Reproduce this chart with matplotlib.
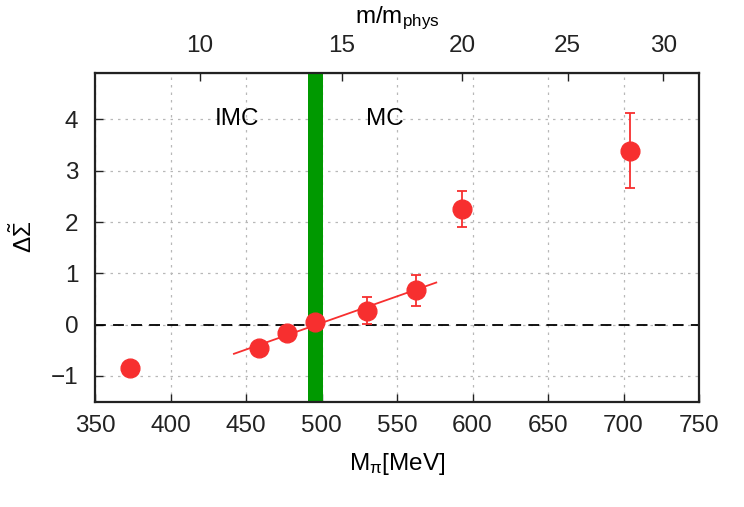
import numpy as np
import matplotlib
matplotlib.use("Agg")
import matplotlib.pyplot as plt

plt.rcParams['font.family'] = ['Liberation Sans', 'DejaVu Sans']
plt.rcParams['mathtext.fontset'] = 'custom'
plt.rcParams['mathtext.rm'] = 'Liberation Sans'
plt.rcParams['mathtext.it'] = 'Liberation Sans:italic'

# --------------------------------------------
# data
# --------------------------------------------
m_pi = [373.5, 458.3, 477.0, 495.6, 530.0, 562.4, 593.0, 704.2]
delta_sigma = [-0.84, -0.46, -0.17, 0.05, 0.27, 0.67, 2.26, 3.39]
delta_err = [0.05, 0.06, 0.07, 0.08, 0.26, 0.30, 0.35, 0.735]

fit_x = [442.0, 576.0]
fit_y = [-0.57, 0.82]

band_lo, band_hi = 491.0, 501.0
m_phys = 132.6
top_ticks = [10, 15, 20, 25, 30]

red = '#f72f2f'
fs = 17.5

fig = plt.figure(figsize=(7.44, 5.07), dpi=100)
ax = fig.add_axes([95/744, 1 - 401.5/507, (699 - 95)/744, (401.5 - 73.3)/507])

ax.axvspan(band_lo, band_hi, color='#009900', lw=0, zorder=1)
ax.axhline(0, color='black', lw=1.3, dashes=(6, 4), zorder=2)
ax.plot(fit_x, fit_y, color=red, lw=1.3, zorder=3)
ax.errorbar(m_pi, delta_sigma, yerr=delta_err, fmt='o', color=red, ms=13.5,
            elinewidth=1.3, capsize=3.5, capthick=1.3, zorder=4)

ax.text(444, 4.0, 'IMC', fontsize=fs, ha='center', va='center')
ax.text(542, 4.0, 'MC', fontsize=fs, ha='center', va='center')

ax.set_xlim(350, 750)
ax.set_ylim(-1.5, 4.9)
ax.set_xticks(np.arange(350, 751, 50))
ax.set_yticks(np.arange(-1, 5, 1))
ax.set_yticklabels(['\u22121', '0', '1', '2', '3', '4'])
ax.grid(True, color='#b8b8b8', lw=0.9, linestyle=(0, (2, 4)), zorder=0)
ax.set_axisbelow(True)
ax.tick_params(direction='in', length=6, width=1, labelsize=fs, top=False, right=False,
               colors='#222222')
ax.tick_params(axis='x', pad=10)
ax.tick_params(axis='y', pad=12)
for s in ax.spines.values():
    s.set_linewidth(1.6)
    s.set_color('#222222')

ax.set_xlabel(r'M$_{\mathrm{\pi}}$[MeV]', fontsize=fs, labelpad=10)
ax.set_ylabel(r'$\Delta\tilde{\Sigma}$', fontsize=fs, labelpad=10)

sec = ax.secondary_xaxis('top', functions=(lambda m: (np.abs(m) / m_phys) ** 2,
                                           lambda r: np.sqrt(np.abs(r)) * m_phys))
sec.set_xticks(top_ticks)
sec.tick_params(direction='in', length=6, width=1, labelsize=fs, colors='#222222', pad=12)
sec.set_xlabel(r'm/m$_{\rm phys}$', fontsize=fs, labelpad=8)

fig.savefig('out.png', dpi=100)
